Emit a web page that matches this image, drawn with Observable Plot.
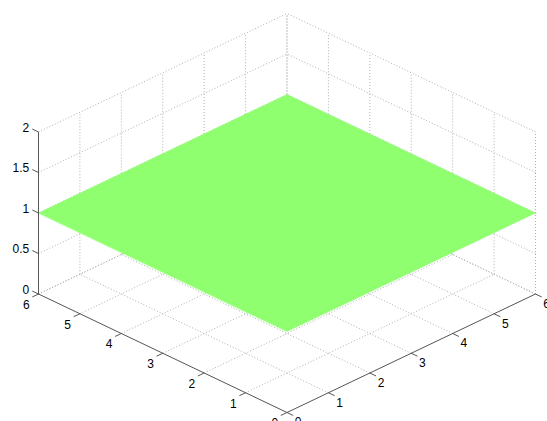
<!DOCTYPE html>
<html>
<head>
<meta charset="utf-8">
<script src="https://cdn.jsdelivr.net/npm/d3@7"></script>
<script src="https://cdn.jsdelivr.net/npm/@observablehq/plot@0.6"></script>
<style>
  html, body { margin: 0; padding: 0; background: #fff; }
  #chart { width: 547px; height: 421px; overflow: hidden; }
</style>
</head>
<body>
<div id="chart"></div>
<script>
// Horizontal axes (both run 0..6), vertical axis 0..2
const axisTicks = [0, 1, 2, 3, 4, 5, 6];
const axisTickLabels = ["0", "1", "2", "3", "4", "5", "6"];
const zTicks = [0, 0.5, 1, 1.5, 2];
const zTickLabels = ["0", "0.5", "1", "1.5", "2"];

// The flat surface z = 1 over the square [0,6] x [0,6]
const surfaceU = [0, 6];
const surfaceV = [0, 6];
const surfaceZ = 1;

// Oblique view: u runs to the lower right, v to the lower left
const K = 19.75 / 81;
const proj = (u, v, z) => ({X: u - v, Y: z + (u + v) * K});
const seg = (a, b) => {
  const p = proj(...a), q = proj(...b);
  return {x1: p.X, y1: p.Y, x2: q.X, y2: q.Y};
};

const uMax = d3.max(axisTicks), zMax = d3.max(zTicks);
const L = 0.15; // tick length in data units

// Dotted grid: floor and the two back walls
const grid = [];
for (const t of axisTicks) {
  if (t > 0) grid.push(seg([t, 0, 0], [t, uMax, 0]));      // floor, u = t
  if (t > 0) grid.push(seg([0, t, 0], [uMax, t, 0]));      // floor, v = t
  if (t > 0) grid.push(seg([t, uMax, 0], [t, uMax, zMax])); // back-left wall
  grid.push(seg([uMax, t, 0], [uMax, t, zMax]));           // back-right wall
}
for (const z of zTicks) {
  grid.push(seg([0, uMax, z], [uMax, uMax, z]));
  grid.push(seg([uMax, 0, z], [uMax, uMax, z]));
}

// Solid axis lines
const axes = [
  seg([0, 0, 0], [0, uMax, 0]),
  seg([0, 0, 0], [uMax, 0, 0]),
  seg([0, uMax, 0], [0, uMax, zMax])
];

// Tick marks and label anchors
const ticks = [];
const leftLabels = [], rightLabels = [], zLabels = [];
axisTicks.forEach((t, i) => {
  const a = seg([0, t, 0], [-L, t, 0]);
  ticks.push(a);
  leftLabels.push({x: a.x2, y: a.y2, text: axisTickLabels[i]});
  const b = seg([t, 0, 0], [t, -L, 0]);
  ticks.push(b);
  rightLabels.push({x: b.x2, y: b.y2, text: axisTickLabels[i]});
});
zTicks.forEach((z, i) => {
  const c = seg([0, uMax, z], [0, uMax + L, z]);
  ticks.push(c);
  zLabels.push({x: c.x2, y: c.y2, text: zTickLabels[i]});
});

// Surface outline (closed polygon)
const surface = [
  [surfaceU[0], surfaceV[0]], [surfaceU[1], surfaceV[0]],
  [surfaceU[1], surfaceV[1]], [surfaceU[0], surfaceV[1]]
].map(([u, v]) => proj(u, v, surfaceZ));

const chart = Plot.plot({
  width: 547,
  height: 421,
  margin: 0,
  style: {fontFamily: "'Liberation Sans', Arial, sans-serif", fontSize: "12px", background: "#fff", overflow: "visible"},
  x: {domain: [-6, 6], range: [38, 535], axis: null},
  y: {domain: [0, 1], range: [412, 331], axis: null},
  marks: [
    Plot.link(grid, {x1: "x1", y1: "y1", x2: "x2", y2: "y2", stroke: "#b0b0b0", strokeWidth: 1, strokeDasharray: "1,2"}),
    Plot.line(surface, {x: "X", y: "Y", curve: "linear-closed", fill: "#8fff70", stroke: "#8fff70", strokeWidth: 0.5}),
    Plot.link(axes, {x1: "x1", y1: "y1", x2: "x2", y2: "y2", stroke: "#555", strokeWidth: 1}),
    Plot.link(ticks, {x1: "x1", y1: "y1", x2: "x2", y2: "y2", stroke: "#555", strokeWidth: 1}),
    Plot.text(leftLabels, {x: "x", y: "y", text: "text", dx: -6, dy: 8, fill: "#000"}),
    Plot.text(rightLabels, {x: "x", y: "y", text: "text", dx: 5, dy: 7, fill: "#000"}),
    Plot.text(zLabels, {x: "x", y: "y", text: "text", dx: -3, dy: -1, textAnchor: "end", fill: "#000"})
  ]
});
document.getElementById("chart").appendChild(chart);
</script>
</body>
</html>
